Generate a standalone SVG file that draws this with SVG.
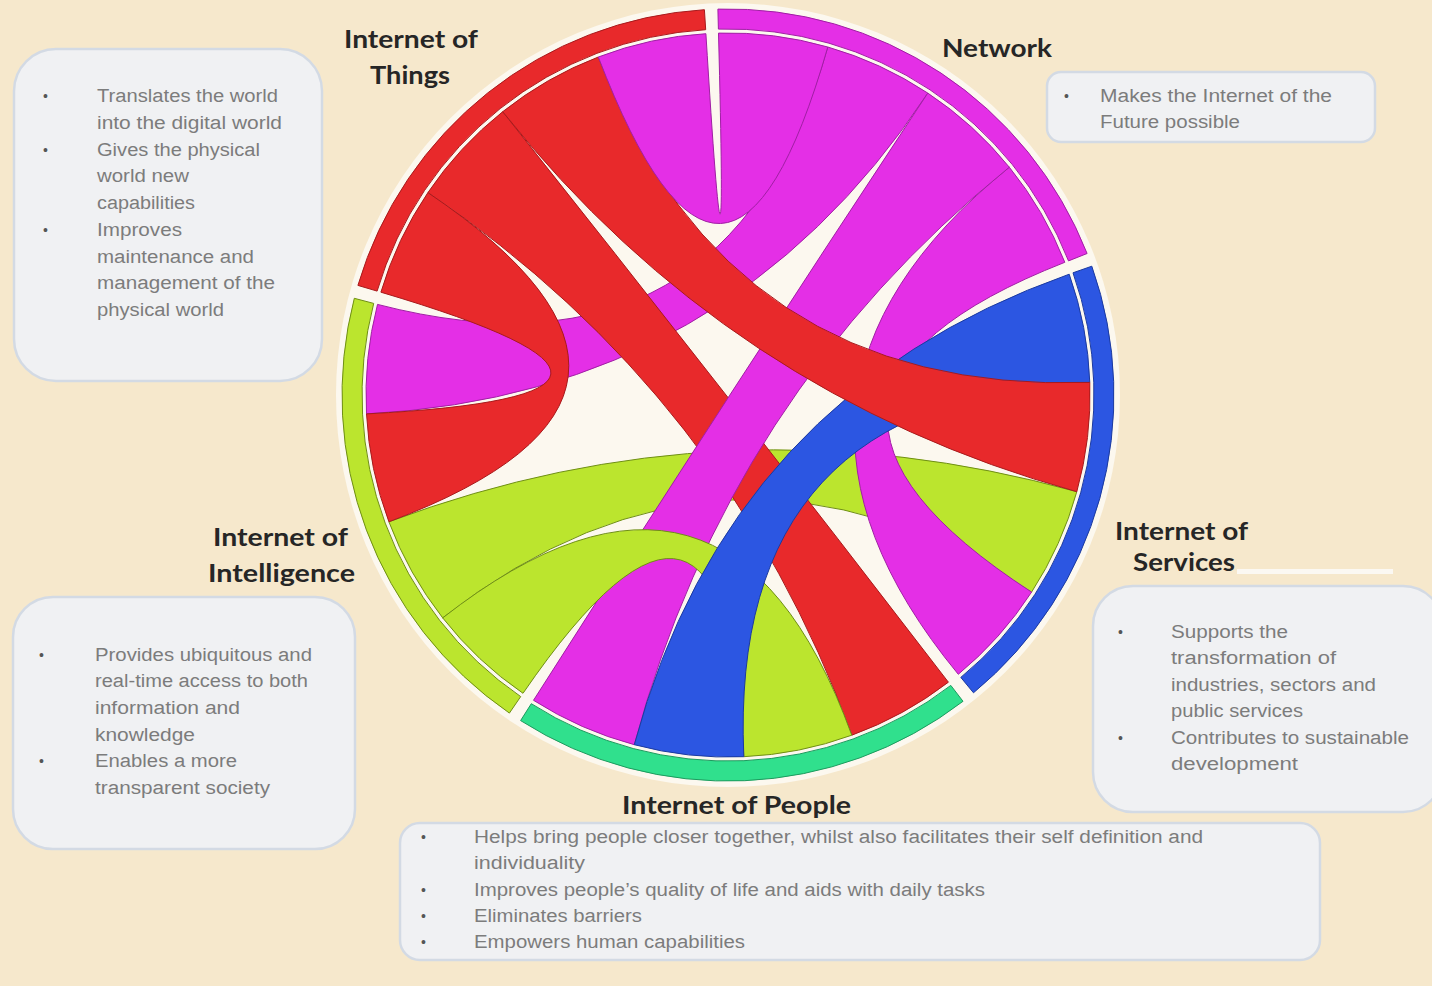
<svg xmlns="http://www.w3.org/2000/svg" width="1432" height="986" viewBox="0 0 1432 986">
<defs>
<style>
.lbl{font-family:Lato,"Open Sans","Liberation Sans",sans-serif;font-weight:700;font-size:25px;fill:#262626}
.txt{font-family:"Liberation Sans",Arial,sans-serif;font-size:18px;fill:#7c7c7c}
.bul{font-family:"Liberation Sans",Arial,sans-serif;font-size:14px;fill:#555}
.box{fill:#f0f1f3;stroke:#d3dae4;stroke-width:2.5}
.red{fill:#e8292b;stroke:#a81a1c;stroke-width:1}
.pink{fill:#e42fe6;stroke:#a01fa4;stroke-width:1}
.blue{fill:#2c56e2;stroke:#1b3aa0;stroke-width:1}
.lime{fill:#bbe52e;stroke:#6f8f14;stroke-width:1}
.teal{fill:#30e08d;stroke:#1d9a5e;stroke-width:1}
</style>
</defs>
<rect x="0" y="0" width="1432" height="986" fill="#f6e8cc"/>
<circle cx="728" cy="395" r="392" fill="#fcf8ef"/>

<g id="connectors">
<path class="pink" d="M827.8 47.0 A362 362 0 0 1 927.8 93.1 Q728 395 366.5 413.9 A362 362 0 0 1 377.5 304.4 Q728 395 827.8 47.0 Z"/>
<path class="lime" d="M1076.8 491.7 A362 362 0 0 1 1031.6 592.1 Q728 395 442.7 617.9 A362 362 0 0 1 388.9 521.8 Q728 395 1076.8 491.7 Z"/>
<path class="pink" d="M1009.3 167.2 A362 362 0 0 1 1064.8 262.3 Q728 395 1031.6 592.1 A362 362 0 0 1 958.3 674.3 Q728 395 1009.3 167.2 Z"/>
<path class="red" d="M427.9 192.6 A362 362 0 0 1 502.7 111.7 Q728 395 948.4 682.2 A362 362 0 0 1 851.8 735.2 Q728 395 427.9 192.6 Z"/>
<path class="pink" d="M927.8 93.1 A362 362 0 0 1 1009.3 167.2 Q728 395 634.3 744.7 A362 362 0 0 1 533.5 700.3 Q728 395 927.8 93.1 Z"/>
<path class="lime" d="M851.8 735.2 A362 362 0 0 1 743.8 756.7 Q728 395 523.0 693.3 A362 362 0 0 1 442.7 617.9 Q728 395 851.8 735.2 Z"/>
<path class="blue" d="M1069.2 274.2 A362 362 0 0 1 1089.8 382.4 Q728 395 743.8 756.7 A362 362 0 0 1 634.3 744.7 Q728 395 1069.2 274.2 Z"/>
<path class="red" d="M502.7 111.7 A362 362 0 0 1 598.3 57.0 Q728 395 1089.8 382.4 A362 362 0 0 1 1076.8 491.7 Q728 395 502.7 111.7 Z"/>
<path class="red" d="M380.9 292.2 A362 362 0 0 1 427.9 192.6 Q728 395 388.9 521.8 A362 362 0 0 1 366.5 413.9 Q728 395 380.9 292.2 Z"/>
<path class="pink" d="M598.3 57.0 A362 362 0 0 1 705.9 33.7 Q728 395 718.5 33.1 A362 362 0 0 1 827.8 47.0 Q728 395 598.3 57.0 Z"/>
</g>

<g id="things">
<path class="red" d="M357.9 285.4 A386 386 0 0 1 704.4 9.7 L705.7 29.7 A366 366 0 0 0 377.1 291.1 Z"/>
<text class="lbl" x="344" y="48" textLength="134" lengthAdjust="spacingAndGlyphs">Internet of</text>
<text class="lbl" x="370" y="84" textLength="80" lengthAdjust="spacingAndGlyphs">Things</text>
<rect class="box" x="14" y="49" width="308" height="332" rx="42"/>
<text class="bul" x="43" y="101">•</text>
<text class="bul" x="43" y="155">•</text>
<text class="bul" x="43" y="235">•</text>
<text class="txt" x="97" y="102" textLength="181" lengthAdjust="spacingAndGlyphs">Translates the world</text>
<text class="txt" x="97" y="129" textLength="185" lengthAdjust="spacingAndGlyphs">into the digital world</text>
<text class="txt" x="97" y="156" textLength="163" lengthAdjust="spacingAndGlyphs">Gives the physical</text>
<text class="txt" x="97" y="182" textLength="92" lengthAdjust="spacingAndGlyphs">world new</text>
<text class="txt" x="97" y="209" textLength="98" lengthAdjust="spacingAndGlyphs">capabilities</text>
<text class="txt" x="97" y="236" textLength="85" lengthAdjust="spacingAndGlyphs">Improves</text>
<text class="txt" x="97" y="263" textLength="157" lengthAdjust="spacingAndGlyphs">maintenance and</text>
<text class="txt" x="97" y="289" textLength="178" lengthAdjust="spacingAndGlyphs">management of the</text>
<text class="txt" x="97" y="316" textLength="127" lengthAdjust="spacingAndGlyphs">physical world</text>
</g>

<g id="network">
<path class="pink" d="M717.9 9.1 A386 386 0 0 1 1087.1 253.5 L1068.5 260.9 A366 366 0 0 0 718.4 29.1 Z"/>
<text class="lbl" x="942" y="57" textLength="110" lengthAdjust="spacingAndGlyphs">Network</text>
<rect class="box" x="1047" y="72" width="328" height="70" rx="14"/>
<text class="bul" x="1064" y="101">•</text>
<text class="txt" x="1100" y="102" textLength="232" lengthAdjust="spacingAndGlyphs">Makes the Internet of the</text>
<text class="txt" x="1100" y="128" textLength="140" lengthAdjust="spacingAndGlyphs">Future possible</text>
</g>

<g id="services">
<path class="blue" d="M1091.8 266.2 A386 386 0 0 1 973.5 692.8 L960.8 677.4 A366 366 0 0 0 1073.0 272.8 Z"/>
<text class="lbl" x="1115" y="540" textLength="133" lengthAdjust="spacingAndGlyphs">Internet of</text>
<text class="lbl" x="1133" y="571" textLength="102" lengthAdjust="spacingAndGlyphs">Services</text>
<rect x="1237" y="569" width="156" height="5" fill="#fbf8f2"/>
<rect class="box" x="1093" y="586" width="350" height="226" rx="40"/>
<text class="bul" x="1118" y="637">•</text>
<text class="bul" x="1118" y="743">•</text>
<text class="txt" x="1171" y="638" textLength="117" lengthAdjust="spacingAndGlyphs">Supports the</text>
<text class="txt" x="1171" y="664" textLength="165" lengthAdjust="spacingAndGlyphs">transformation of</text>
<text class="txt" x="1171" y="691" textLength="205" lengthAdjust="spacingAndGlyphs">industries, sectors and</text>
<text class="txt" x="1171" y="717" textLength="132" lengthAdjust="spacingAndGlyphs">public services</text>
<text class="txt" x="1171" y="744" textLength="238" lengthAdjust="spacingAndGlyphs">Contributes to sustainable</text>
<text class="txt" x="1171" y="770" textLength="127" lengthAdjust="spacingAndGlyphs">development</text>
</g>

<g id="people">
<path class="teal" d="M963.0 701.3 A386 386 0 0 1 520.6 720.6 L531.3 703.7 A366 366 0 0 0 950.8 685.4 Z"/>
<text class="lbl" x="622" y="814" textLength="229" lengthAdjust="spacingAndGlyphs">Internet of People</text>
<rect class="box" x="400" y="823" width="920" height="137" rx="20"/>
<text class="bul" x="421" y="842">•</text>
<text class="bul" x="421" y="895">•</text>
<text class="bul" x="421" y="921">•</text>
<text class="bul" x="421" y="947">•</text>
<text class="txt" x="474" y="843" textLength="729" lengthAdjust="spacingAndGlyphs">Helps bring people closer together, whilst  also facilitates their self definition and</text>
<text class="txt" x="474" y="869" textLength="111" lengthAdjust="spacingAndGlyphs">individuality</text>
<text class="txt" x="474" y="896" textLength="511" lengthAdjust="spacingAndGlyphs">Improves people’s quality of life and aids with daily tasks</text>
<text class="txt" x="474" y="922" textLength="168" lengthAdjust="spacingAndGlyphs">Eliminates barriers</text>
<text class="txt" x="474" y="948" textLength="271" lengthAdjust="spacingAndGlyphs">Empowers human capabilities</text>
</g>

<g id="intelligence">
<path class="lime" d="M509.4 713.1 A386 386 0 0 1 354.3 298.3 L373.7 303.4 A366 366 0 0 0 520.7 696.6 Z"/>
<text class="lbl" x="213" y="546" textLength="135" lengthAdjust="spacingAndGlyphs">Internet of</text>
<text class="lbl" x="208" y="582" textLength="147" lengthAdjust="spacingAndGlyphs">Intelligence</text>
<rect class="box" x="13" y="597" width="342" height="252" rx="40"/>
<text class="bul" x="39" y="660">•</text>
<text class="bul" x="39" y="766">•</text>
<text class="txt" x="95" y="661" textLength="217" lengthAdjust="spacingAndGlyphs">Provides ubiquitous and</text>
<text class="txt" x="95" y="687" textLength="213" lengthAdjust="spacingAndGlyphs">real-time access to both</text>
<text class="txt" x="95" y="714" textLength="145" lengthAdjust="spacingAndGlyphs">information and</text>
<text class="txt" x="95" y="741" textLength="100" lengthAdjust="spacingAndGlyphs">knowledge</text>
<text class="txt" x="95" y="767" textLength="142" lengthAdjust="spacingAndGlyphs">Enables  a more</text>
<text class="txt" x="95" y="794" textLength="175" lengthAdjust="spacingAndGlyphs">transparent society</text>
</g>
</svg>
